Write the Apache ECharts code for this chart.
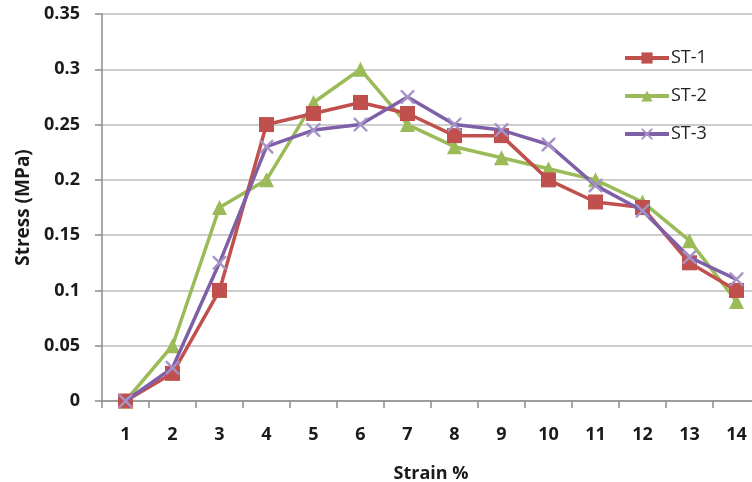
<!DOCTYPE html>
<html>
<head>
<meta charset="utf-8">
<script src="https://cdn.jsdelivr.net/npm/echarts@6/dist/echarts.min.js"></script>
<style>html,body{margin:0;padding:0;background:#fff;}#c{width:752px;height:482px;}</style>
</head>
<body>
<div id="c"></div>
<script>
const categories = ['1','2','3','4','5','6','7','8','9','10','11','12','13','14'];
const st1 = [0, 0.025, 0.1, 0.25, 0.26, 0.27, 0.26, 0.24, 0.24, 0.2, 0.18, 0.175, 0.125, 0.1];
const st2 = [0, 0.05, 0.175, 0.2, 0.27, 0.3, 0.25, 0.23, 0.22, 0.21, 0.2, 0.18, 0.145, 0.09];
const st3 = [0, 0.03, 0.125, 0.23, 0.245, 0.25, 0.275, 0.25, 0.245, 0.232, 0.195, 0.172, 0.13, 0.11];
const seriesNames = ['ST-1', 'ST-2', 'ST-3'];

const FONT = 'Open Sans';
const xPath = 'path://M0,0L1.2,0L5,3.8L8.8,0L10,0L10,1.2L6.2,5L10,8.8L10,10L8.8,10L5,6.2L1.2,10L0,10L0,8.8L3.8,5L0,1.2Z';

const chart = echarts.init(document.getElementById('c'), null, {renderer: 'canvas'});
chart.setOption({
  animation: false,
  backgroundColor: '#ffffff',
  grid: {left: 102, right: -8, top: 14, bottom: 81, containLabel: false, outerBoundsMode: 'none'},
  legend: {
    orient: 'vertical',
    left: 618,
    top: 44,
    itemWidth: 44,
    itemHeight: 14,
    itemGap: 20,
    lineStyle: {width: 4},
    textStyle: {fontFamily: FONT, fontSize: 18, color: '#222', padding: [0,0,0,-3]},
    data: seriesNames
  },
  xAxis: {
    type: 'category',
    data: categories,
    boundaryGap: true,
    axisLine: {lineStyle: {color: '#8c8c8c', width: 1.5}},
    axisTick: {show: true, length: 7, lineStyle: {color: '#8c8c8c', width: 1.5}},
    axisLabel: {fontFamily: FONT, fontWeight: 'bold', fontSize: 18, color: '#1a1a1a', margin: 25},
    name: 'Strain %',
    nameLocation: 'middle',
    nameGap: 64,
    nameTextStyle: {fontFamily: FONT, fontWeight: 'bold', fontSize: 18, color: '#1a1a1a'}
  },
  yAxis: {
    type: 'value',
    min: 0,
    max: 0.35,
    interval: 0.05,
    axisLine: {show: true, lineStyle: {color: '#8c8c8c', width: 1.5}},
    axisTick: {show: true, length: 7, lineStyle: {color: '#8c8c8c', width: 1.5}},
    splitLine: {lineStyle: {color: '#bdbdbd', width: 1.5}},
    axisLabel: {fontFamily: FONT, fontWeight: 'bold', fontSize: 18, color: '#1a1a1a', margin: 22},
    name: 'Stress (MPa)',
    nameLocation: 'middle',
    nameRotate: 90,
    nameGap: 68,
    nameTextStyle: {fontFamily: FONT, fontWeight: 'bold', fontSize: 19, color: '#1a1a1a'}
  },
  series: [
    {
      name: seriesNames[0], type: 'line', data: st1,
      symbol: 'rect', symbolSize: 15,
      lineStyle: {color: '#c0504d', width: 3.5},
      itemStyle: {color: '#c0504d'},
      z: 3
    },
    {
      name: seriesNames[1], type: 'line', data: st2,
      symbol: 'triangle', symbolSize: 15,
      lineStyle: {color: '#9bbb59', width: 3.5},
      itemStyle: {color: '#9bbb59'},
      z: 2
    },
    {
      name: seriesNames[2], type: 'line', data: st3,
      symbol: xPath, symbolSize: 14,
      lineStyle: {color: '#7f60a8', width: 3.5},
      itemStyle: {color: '#a593c8'},
      z: 4
    }
  ]
});
</script>
</body>
</html>
